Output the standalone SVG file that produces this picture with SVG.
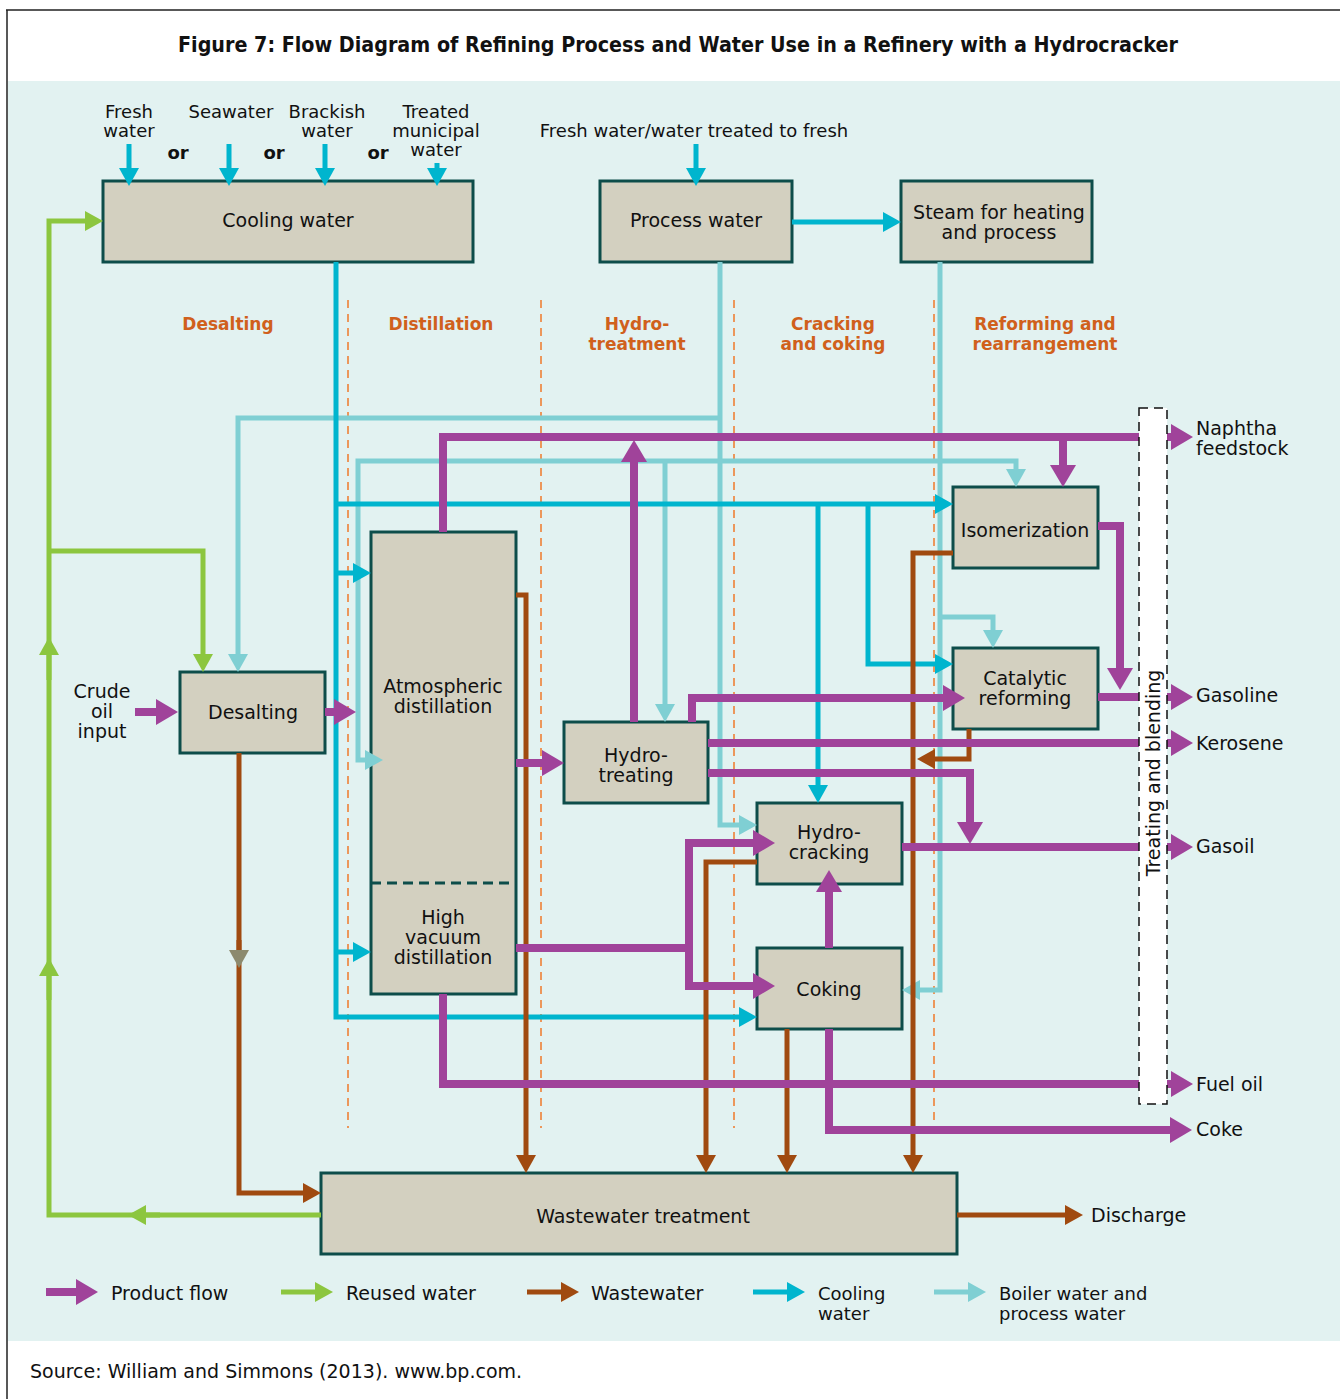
<svg xmlns="http://www.w3.org/2000/svg" width="1340" height="1399" viewBox="0 0 1340 1399">
<style>
text{font-family:"DejaVu Sans",sans-serif;font-size:19px;fill:#111}
.c{text-anchor:middle}
.sec{font-weight:bold;font-size:17px;fill:#d0601c;text-anchor:middle}
.or{font-weight:bold;font-size:18px;text-anchor:middle}
.src{font-size:18px;text-anchor:middle}
.node rect{fill:#d3d0c0;stroke:#0d4d4a;stroke-width:3}
.ln{fill:none;stroke-linejoin:miter;stroke-linecap:butt}
.p{stroke:#a0439a;stroke-width:8;marker-end:url(#ap)}
.pn{stroke:#a0439a;stroke-width:8}
.g{stroke:#8cc63f;stroke-width:5;marker-end:url(#ag)}
.b{stroke:#a04a10;stroke-width:5;marker-end:url(#ab)}
.cy{stroke:#00b5ce;stroke-width:5;marker-end:url(#ac)}
.t{stroke:#7fcfd3;stroke-width:5;marker-end:url(#at)}
.div{stroke:#f07a2a;stroke-width:1.5;stroke-dasharray:8 6;fill:none}
</style>
<defs>
<marker id="ap" markerUnits="userSpaceOnUse" markerWidth="22" markerHeight="26" refX="2" refY="13" orient="auto"><path d="M0,0 L22,13 L0,26 z" fill="#a0439a"/></marker>
<marker id="ag" markerUnits="userSpaceOnUse" markerWidth="18" markerHeight="20" refX="2" refY="10" orient="auto"><path d="M0,0 L18,10 L0,20 z" fill="#8cc63f"/></marker>
<marker id="ab" markerUnits="userSpaceOnUse" markerWidth="18" markerHeight="20" refX="2" refY="10" orient="auto"><path d="M0,0 L18,10 L0,20 z" fill="#a04a10"/></marker>
<marker id="agr" markerUnits="userSpaceOnUse" markerWidth="18" markerHeight="20" refX="2" refY="10" orient="auto"><path d="M0,0 L18,10 L0,20 z" fill="#8c8a6e"/></marker>
<marker id="ac" markerUnits="userSpaceOnUse" markerWidth="18" markerHeight="20" refX="2" refY="10" orient="auto"><path d="M0,0 L18,10 L0,20 z" fill="#00b5ce"/></marker>
<marker id="at" markerUnits="userSpaceOnUse" markerWidth="18" markerHeight="20" refX="2" refY="10" orient="auto"><path d="M0,0 L18,10 L0,20 z" fill="#7fcfd3"/></marker>
</defs>

<rect x="0" y="0" width="1340" height="1399" fill="#ffffff"/>
<rect x="8" y="81" width="1332" height="1260" fill="#e2f2f1"/>
<path d="M6,10 H1340 M7,10 V1399" stroke="#222" stroke-width="1.5" fill="none"/>
<text x="678" y="52" class="c" style="font-weight:bold;font-size:21px" textLength="1000" lengthAdjust="spacingAndGlyphs">Figure 7: Flow Diagram of Refining Process and Water Use in a Refinery with a Hydrocracker</text>

<g id="dividers">
<path class="div" d="M348,300 V1128 M541,300 V1128 M734,300 V1128 M934,300 V1128"/>
</g>

<g id="section-labels">
<text x="228" y="330" class="sec">Desalting</text>
<text x="441" y="330" class="sec">Distillation</text>
<text x="637" y="330" class="sec">Hydro-</text>
<text x="637" y="350" class="sec">treatment</text>
<text x="833" y="330" class="sec">Cracking</text>
<text x="833" y="350" class="sec">and coking</text>
<text x="1045" y="330" class="sec">Reforming and</text>
<text x="1045" y="350" class="sec">rearrangement</text>
</g>

<g id="source-labels">
<text x="129" y="118" class="src">Fresh</text>
<text x="129" y="137" class="src">water</text>
<text x="231" y="118" class="src">Seawater</text>
<text x="327" y="118" class="src">Brackish</text>
<text x="327" y="137" class="src">water</text>
<text x="436" y="118" class="src">Treated</text>
<text x="436" y="137" class="src">municipal</text>
<text x="436" y="156" class="src">water</text>
<text x="178" y="159" class="or">or</text>
<text x="274" y="159" class="or">or</text>
<text x="378" y="159" class="or">or</text>
<text x="694" y="137" class="src">Fresh water/water treated to fresh</text>
<text x="102" y="698" class="c">Crude</text>
<text x="102" y="718" class="c">oil</text>
<text x="102" y="738" class="c">input</text>
</g>

<g id="node-cooling" class="node"><rect x="103" y="181" width="370" height="81"/><text x="288" y="227" class="c">Cooling water</text></g>
<g id="node-process" class="node"><rect x="600" y="181" width="192" height="81"/><text x="696" y="227" class="c">Process water</text></g>
<g id="node-steam" class="node"><rect x="901" y="181" width="191" height="81"/><text x="999" y="219" class="c">Steam for heating</text><text x="999" y="239" class="c">and process</text></g>
<g id="node-desalting" class="node"><rect x="180" y="672" width="145" height="81"/><text x="253" y="719" class="c">Desalting</text></g>
<g id="node-distillation" class="node"><rect x="371" y="532" width="145" height="462"/>
<path d="M371,883 H516" stroke="#0d4d4a" stroke-width="3" stroke-dasharray="10 6" fill="none"/>
<text x="443" y="693" class="c">Atmospheric</text><text x="443" y="713" class="c">distillation</text>
<text x="443" y="924" class="c">High</text><text x="443" y="944" class="c">vacuum</text><text x="443" y="964" class="c">distillation</text></g>
<g id="node-hydrotreating" class="node"><rect x="564" y="722" width="144" height="81"/><text x="636" y="762" class="c">Hydro-</text><text x="636" y="782" class="c">treating</text></g>
<g id="node-isomerization" class="node"><rect x="953" y="487" width="145" height="81"/><text x="1025" y="537" class="c">Isomerization</text></g>
<g id="node-reforming" class="node"><rect x="953" y="648" width="145" height="81"/><text x="1025" y="685" class="c">Catalytic</text><text x="1025" y="705" class="c">reforming</text></g>
<g id="node-hydrocracking" class="node"><rect x="757" y="803" width="145" height="81"/><text x="829" y="839" class="c">Hydro-</text><text x="829" y="859" class="c">cracking</text></g>
<g id="node-coking" class="node"><rect x="757" y="948" width="145" height="81"/><text x="829" y="996" class="c">Coking</text></g>
<g id="node-wastewater" class="node"><rect x="321" y="1173" width="636" height="81"/><text x="643" y="1223" class="c">Wastewater treatment</text></g>

<g id="connectors">
<!-- reused water -->
<path class="ln g" d="M321,1215 H49 V221 H87"/>
<path class="ln g" d="M49,551 H203 V656"/>
<path class="ln g" d="M160,1215 H144"/>
<path class="ln g" d="M49,680 V653"/>
<path class="ln g" d="M49,1000 V974"/>
<!-- boiler / process water -->
<path class="ln t" d="M720,262 V825 H741"/>
<path class="ln t" d="M720,418 H238 V656"/>
<path class="ln t" d="M940,262 V990 H918"/>
<path class="ln t" d="M940,461 H358 V760 H367"/>
<path class="ln t" d="M940,461 H1016 V471"/>
<path class="ln t" d="M665,461 V706"/>
<path class="ln t" d="M940,617 H993 V632"/>
<!-- cooling water -->
<path class="ln cy" d="M129,144 V170"/>
<path class="ln cy" d="M229,144 V170"/>
<path class="ln cy" d="M325,144 V170"/>
<path class="ln cy" d="M437,163 V170"/>
<path class="ln cy" d="M696,144 V170"/>
<path class="ln cy" d="M792,222 H885"/>
<path class="ln cy" d="M336,262 V1017 H741"/>
<path class="ln cy" d="M336,504 H937"/>
<path class="ln cy" d="M336,573 H355"/>
<path class="ln cy" d="M336,952 H355"/>
<path class="ln cy" d="M818,504 V787"/>
<path class="ln cy" d="M868,504 V664 H937"/>
<!-- wastewater -->
<path class="ln b" d="M239,753 V1193 H305"/>
<path class="ln" d="M239,940 V952" stroke="#a04a10" stroke-width="5" marker-end="url(#agr)"/>
<path class="ln b" d="M516,595 H526 V1157"/>
<path class="ln b" d="M757,862 H706 V1157"/>
<path class="ln b" d="M787,1029 V1157"/>
<path class="ln b" d="M953,553 H913 V1157"/>
<path class="ln b" d="M969,729 V759 H933"/>
<path class="ln b" d="M957,1215 H1067"/>
<!-- product flow -->
<path class="ln p" d="M135,712 H158"/>
<path class="ln p" d="M325,712 H336"/>
<path class="ln pn" d="M443,532 V437 H1139"/>
<path class="ln p" d="M1063,437 V467"/>
<path class="ln p" d="M634,722 V460"/>
<path class="ln p" d="M516,763 H544"/>
<path class="ln p" d="M692,722 V698 H945"/>
<path class="ln pn" d="M708,743 H1139"/>
<path class="ln p" d="M708,773 H970 V824"/>
<path class="ln p" d="M1098,526 H1120 V670"/>
<path class="ln pn" d="M1098,697 H1139"/>
<path class="ln pn" d="M902,847 H1139"/>
<path class="ln p" d="M516,948 H689 V843 H755"/>
<path class="ln p" d="M689,948 V986 H755"/>
<path class="ln p" d="M829,948 V890"/>
<path class="ln pn" d="M443,994 V1084 H1139"/>
<path class="ln p" d="M829,1029 V1130 H1172"/>
<path class="ln p" d="M1167,437 H1173"/>
<path class="ln p" d="M1167,697 H1173"/>
<path class="ln p" d="M1167,743 H1173"/>
<path class="ln p" d="M1167,847 H1173"/>
<path class="ln p" d="M1167,1084 H1173"/>
</g>

<g id="treating-blending">
<rect x="1139" y="408" width="28" height="696" fill="#ffffff" stroke="#111" stroke-width="1.5" stroke-dasharray="9 6"/>
<text transform="translate(1160,773) rotate(-90)" class="c">Treating and blending</text>
</g>

<g id="outputs">
<text x="1196" y="435">Naphtha</text>
<text x="1196" y="455">feedstock</text>
<text x="1196" y="702">Gasoline</text>
<text x="1196" y="750">Kerosene</text>
<text x="1196" y="853">Gasoil</text>
<text x="1196" y="1091">Fuel oil</text>
<text x="1196" y="1136">Coke</text>
<text x="1091" y="1222">Discharge</text>
</g>

<g id="legend">
<path class="ln p" d="M46,1292 H78"/>
<text x="111" y="1300">Product flow</text>
<path class="ln g" d="M281,1292 H317"/>
<text x="346" y="1300">Reused water</text>
<path class="ln b" d="M527,1292 H563"/>
<text x="591" y="1300">Wastewater</text>
<path class="ln cy" d="M753,1292 H789"/>
<text x="818" y="1300" style="font-size:18px">Cooling</text>
<text x="818" y="1320" style="font-size:18px">water</text>
<path class="ln t" d="M934,1292 H970"/>
<text x="999" y="1300" style="font-size:18px">Boiler water and</text>
<text x="999" y="1320" style="font-size:18px">process water</text>
</g>

<text x="30" y="1378">Source: William and Simmons (2013). www.bp.com.</text>
</svg>
